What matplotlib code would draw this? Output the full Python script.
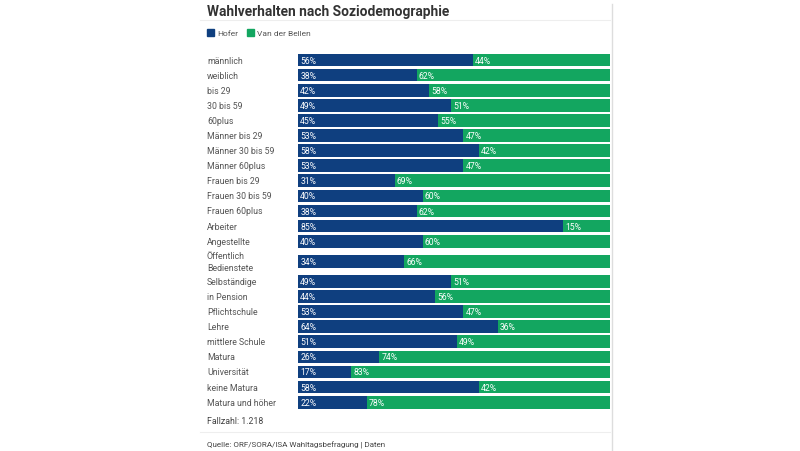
import matplotlib.pyplot as plt
from matplotlib.patches import Rectangle
from matplotlib.lines import Line2D

plt.rcParams['font.family'] = ['Roboto', 'DejaVu Sans']

categories = ['männlich', 'weiblich', 'bis 29', '30 bis 59', '60plus',
              'Männer bis 29', 'Männer 30 bis 59', 'Männer 60plus',
              'Frauen bis 29', 'Frauen 30 bis 59', 'Frauen 60plus',
              'Arbeiter', 'Angestellte', 'Öffentlich\nBedienstete',
              'Selbständige', 'in Pension', 'Pflichtschule', 'Lehre',
              'mittlere Schule', 'Matura', 'Universität', 'keine Matura',
              'Matura und höher']
hofer = [56, 38, 42, 49, 45, 53, 58, 53, 31, 40, 38, 85, 40, 34,
         49, 44, 53, 64, 51, 26, 17, 58, 22]
vdb = [44, 62, 58, 51, 55, 47, 42, 47, 69, 60, 62, 15, 60, 66,
       51, 56, 47, 36, 49, 74, 83, 42, 78]

navy = '#0f3f7f'
green = '#13a660'
grey = '#555555'

W, H = 800, 452
fig = plt.figure(figsize=(8, 4.52), dpi=100)

# the two-line row gets a little more room
pos = []
for i in range(len(categories)):
    extra = 0.0
    if i == 13:
        extra = 0.33
    elif i > 13:
        extra = 0.66
    pos.append(i + extra)

step = 15.1
top_px = 61 - 0.5 * step
bot_px = 61 + pos[-1] * step + 0.5 * step
left_px, right_px = 298, 610
ax = fig.add_axes([left_px / W, 1 - bot_px / H, (right_px - left_px) / W, (bot_px - top_px) / H])

ax.barh(pos, hofer, height=0.84, color=navy)
ax.barh(pos, vdb, left=hofer, height=0.84, color=green)
for p, h, v in zip(pos, hofer, vdb):
    ax.text(0.7, p, f'{h}%', color='white', fontsize=6.2, va='center', ha='left')
    ax.text(h + 0.7, p, f'{v}%', color='white', fontsize=6.2, va='center', ha='left')

ax.set_xlim(0, 100)
ax.set_ylim(pos[-1] + 0.5, -0.5)
ax.axis('off')

for p, c in zip(pos, categories):
    fig.text(207 / W, 1 - (61 + p * step) / H, c, fontsize=6.3, color='#555555',
             va='center', ha='left', linespacing=1.5)

# title and legend
fig.text(207 / W, 1 - 12 / H, 'Wahlverhalten nach Soziodemographie', fontsize=9.9,
         fontweight='bold', color='#333333', va='center', ha='left')
fig.add_artist(Line2D([200 / W, 610 / W], [1 - 21 / H, 1 - 21 / H], color='#eeeeee', lw=0.8))
fig.add_artist(Rectangle((207 / W, 1 - 37 / H), 7 / W, 7 / H, color=navy))
fig.text(217 / W, 1 - 33.5 / H, 'Hofer', fontsize=6, color=grey, va='center', ha='left')
fig.add_artist(Rectangle((247 / W, 1 - 37 / H), 7 / W, 7 / H, color=green))
fig.text(257 / W, 1 - 33.5 / H, 'Van der Bellen', fontsize=6, color=grey, va='center', ha='left')

# footer
fig.text(207 / W, 1 - 422 / H, 'Fallzahl: 1.218', fontsize=6.3, color='#444444', va='center', ha='left')
fig.add_artist(Line2D([200 / W, 610 / W], [1 - 433 / H, 1 - 433 / H], color='#eeeeee', lw=0.8))
fig.text(207 / W, 1 - 445 / H, 'Quelle: ORF/SORA/ISA Wahltagsbefragung | Daten', fontsize=5.8,
         color='#444444', va='center', ha='left')

# right border of the panel
fig.add_artist(Line2D([611.5 / W, 611.5 / W], [0, 1 - 5 / H], color='#dddddd', lw=1))

fig.savefig('out.png', dpi=100)
